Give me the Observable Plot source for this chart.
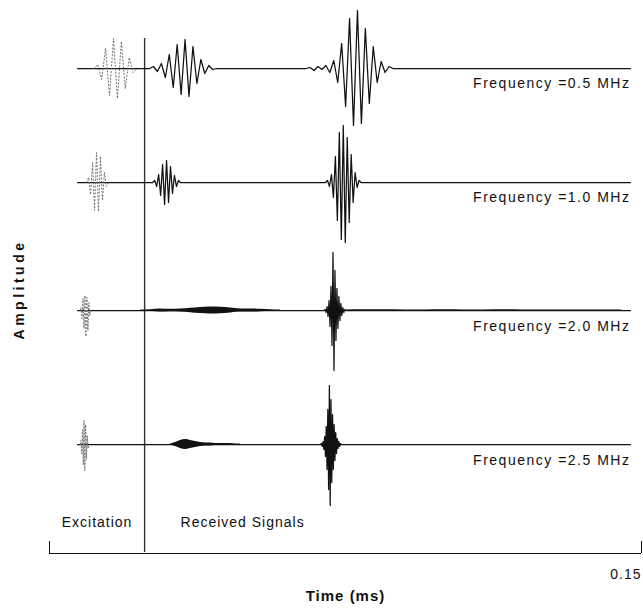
<!DOCTYPE html>
<html>
<head>
<meta charset="utf-8">
<script src="https://cdn.jsdelivr.net/npm/d3@7"></script>
<script src="https://cdn.jsdelivr.net/npm/@observablehq/plot@0.6"></script>
<style>
  html, body { margin: 0; padding: 0; background: #fff; }
  #chart svg { display: block; }
</style>
</head>
<body>
<div id="chart"></div>
<script>
// Excitation frequency of each test (MHz); one trace per frequency, top to bottom
const frequencies = [0.5, 1.0, 2.0, 2.5];

// Five-cycle tone-burst excitation: start time (ms) and alternating half-cycle peaks
const excitationStart = [0.01221, 0.00991, 0.00798, 0.00796];
const excitationPeaks = [
  [4, -11, 20, -27, 30, -30, 27, -20, 11, -4],
  [5, -12, 20, -28, 30, -29, 26, -18, 10, -4],
  [3, -8, 12, -18, 15, -26, 13, -20, 8, -5],
  [4, -9, 15, -20, 24, -26, 20, -15, 9, -4]
];

// Received wave packets: trace index, start time (ms), alternating half-cycle peaks
const packetTrace = [0, 0, 1, 1, 2, 3];
const packetStart = [0.02635, 0.06603, 0.02666, 0.07044, 0.06983, 0.06892];
const packetPeaks = [
  [2, -3, 5, -9, 14, -19, 24, -26, 29, -28, 22, -15, 9, -5, 3, -1],
  [1, -2, 2, -1, 3, -4, 8, -14, 25, -38, 50, -57, 58, -55, 40, -35, 22, -14, 7, -4, 2],
  [2, -4, 8, -13, 18, -22, 22, -20, 16, -11, 7, -4, 2],
  [2, -4, 8, -15, 26, -38, 50, -57, 57, -60, 45, -40, 28, -20, 10, -5, 2],
  [1, -2, 4, -6, 10, -16, 24, -35, 58, -60, 40, -30, 22, -18, 14, -10, 7, -5, 3, -2, 1],
  [1, -2, 3, -5, 8, -12, 18, -25, 35, -45, 59, -61, 45, -38, 30, -25, 20, -16, 12, -9, 6, -4, 3, -2, 1]
];

// Dense low-level arrivals, drawn by their envelope: trace, start (ms), sample step (ms), half-width
const envelopeTrace = [2, 2, 3];
const envelopeStart = [0.02306, 0.0750, 0.03066];
const envelopeStep = [0.002534, 0.005, 0.001267];
const envelopeValues = [
  [0.4, 0.8, 1.5, 1.2, 1.5, 2.2, 3, 3.5, 3.2, 2.5, 1.6, 1.6, 1.2, 0.8, 0.4],
  [0.4, 0.8, 0.8, 0.6, 0.6, 0.8, 0.6, 0.6, 0.8, 0.6, 0.6, 0.6, 0.6, 0.6, 0.4],
  [0.5, 2, 4, 5, 4, 3, 2, 1.5, 1.5, 1, 1, 1, 1, 0.5, 0.5]
];

// Time axis ticks (ms) and region captions
const timeTicks = [0, 0.15];
const tickLabels = [0.15];
const regionLabels = ["Excitation", "Received Signals"];

// Layout: vertical offset of each trace, recorded time span, excitation/received divider
const traceBaseline = [0, -114, -242, -376];
const labelGap = [15, 15, 16, 16];
const traceSpan = [0.0071, 0.1472];
const dividerTime = 0.0241;
const axisLevel = -485;

const halfPeriod = k => 0.0005 / frequencies[k];

// Solid traces: flat baseline with the received packets spliced in
const traceRows = [];
frequencies.forEach((f, k) => {
  const pts = [{k, t: traceSpan[0], a: 0}, {k, t: traceSpan[1], a: 0}];
  packetPeaks.forEach((peaks, p) => {
    if (packetTrace[p] !== k) return;
    const dt = halfPeriod(k), t0 = packetStart[p];
    pts.push({k, t: t0 - dt, a: 0});
    peaks.forEach((a, i) => pts.push({k, t: t0 + i * dt, a}));
    pts.push({k, t: t0 + peaks.length * dt, a: 0});
  });
  pts.sort((a, b) => a.t - b.t);
  traceRows.push(...pts);
});

// Dotted excitation bursts
const excitationRows = [];
excitationPeaks.forEach((peaks, k) => {
  const dt = halfPeriod(k), t0 = excitationStart[k];
  excitationRows.push({k, t: t0 - dt, a: 0});
  peaks.forEach((a, i) => excitationRows.push({k, t: t0 + i * dt, a}));
  excitationRows.push({k, t: t0 + peaks.length * dt, a: 0});
});

// Envelope bands
const envelopeRows = [];
envelopeValues.forEach((vals, e) => {
  vals.forEach((v, i) => envelopeRows.push({e, k: envelopeTrace[e], t: envelopeStart[e] + i * envelopeStep[e], v}));
});

const ink = "#111";

const chart = Plot.plot({
  width: 643,
  height: 613,
  marginLeft: 49,
  marginRight: 2,
  marginTop: 0,
  marginBottom: 61,
  style: {fontFamily: "'Liberation Sans', Arial, sans-serif", fontSize: "14px", background: "#fff", color: ink},
  x: {domain: [0, 0.15], axis: null},
  y: {domain: [-484, 68], axis: null},
  marks: [
    // divider between excitation and received signals
    Plot.ruleX([dividerTime], {y1: 30, y2: -484, stroke: "#333", strokeWidth: 1.4}),
    // bottom time axis with upward end ticks
    Plot.ruleY([axisLevel], {x1: timeTicks[0], x2: timeTicks[1], stroke: ink, strokeWidth: 1}),
    Plot.ruleX(timeTicks, {y1: axisLevel, y2: axisLevel + 12, stroke: ink, strokeWidth: 1}),
    Plot.areaY(envelopeRows, {
      x: "t", y1: d => traceBaseline[d.k] - d.v, y2: d => traceBaseline[d.k] + d.v,
      z: "e", fill: ink, curve: "monotone-x"
    }),
    Plot.line(traceRows, {x: "t", y: d => traceBaseline[d.k] + d.a, z: "k", stroke: ink, strokeWidth: 1.25}),
    Plot.line(excitationRows, {
      x: "t", y: d => traceBaseline[d.k] + d.a, z: "k",
      stroke: "#707070", strokeWidth: 1, strokeDasharray: "1.2 2.2"
    }),
    Plot.text(frequencies, {
      x: () => traceSpan[1], y: (d, i) => traceBaseline[i] - labelGap[i],
      text: d => `Frequency =${d.toFixed(1)} MHz`,
      textAnchor: "end", lineAnchor: "middle", fontSize: 14, fill: ink
    }),
    Plot.text([regionLabels[0]], {
      x: () => dividerTime / 2, y: () => axisLevel + 31,
      textAnchor: "middle", lineAnchor: "middle", fontSize: 14, fill: ink
    }),
    Plot.text([regionLabels[1]], {
      x: () => dividerTime + 0.0091, y: () => axisLevel + 31,
      textAnchor: "start", lineAnchor: "middle", fontSize: 14, fill: ink
    }),
    Plot.text(tickLabels, {
      x: d => d, frameAnchor: "bottom", dy: 22, text: d => d3.format(".2f")(d),
      textAnchor: "end", lineAnchor: "middle", fontSize: 14, fill: ink
    }),
    Plot.text(["Time (ms)"], {
      frameAnchor: "bottom", dy: 44, textAnchor: "middle", lineAnchor: "middle",
      fontSize: 15, fontWeight: "bold", fill: ink
    }),
    Plot.text(["Amplitude"], {
      frameAnchor: "left", dx: -30, dy: 13, rotate: -90, textAnchor: "middle", lineAnchor: "middle",
      fontSize: 14, fontWeight: "bold", fill: ink
    })
  ]
});

// Scanned-print style spacing on the lettering
d3.select(chart).selectAll("text").each(function() {
  const s = this.textContent;
  this.style.letterSpacing = s === "Amplitude" ? "3.5px" : s.startsWith("Frequency") ? "1.5px" : "1px";
});

document.getElementById("chart").appendChild(chart);
</script>
</body>
</html>
